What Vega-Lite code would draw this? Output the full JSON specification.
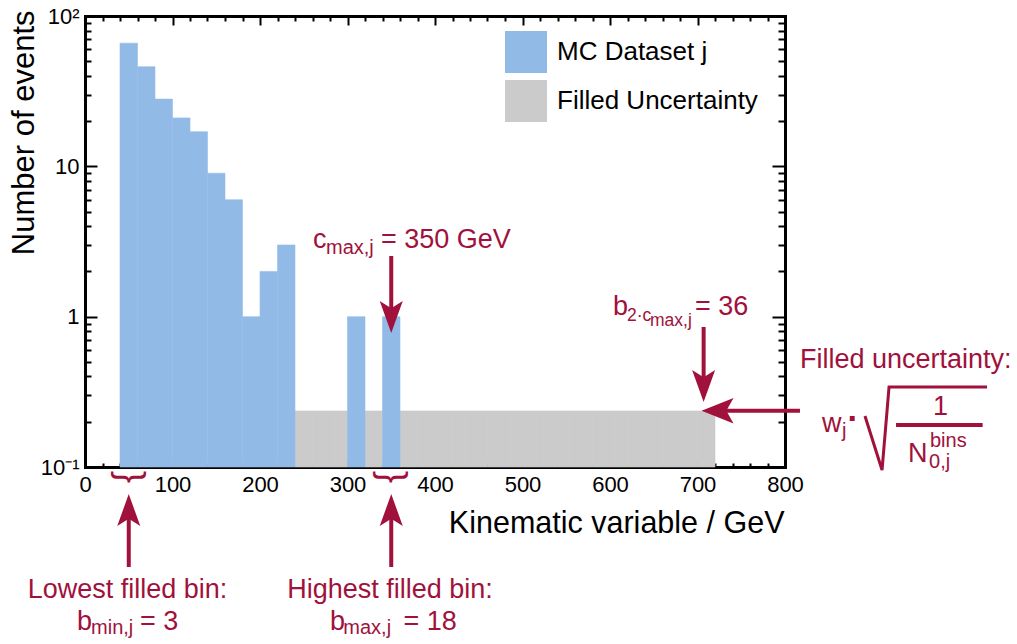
{
  "$schema": "https://vega.github.io/schema/vega-lite/v6.json",
  "width": 700,
  "height": 451,
  "autosize": "none",
  "padding": {"left": 85, "top": 16, "right": 232, "bottom": 177},
  "background": "white",
  "config": {
    "font": "Liberation Sans",
    "view": {"stroke": null},
    "axis": {
      "grid": false,
      "zindex": 1,
      "domain": false,
      "tickColor": "black",
      "tickWidth": 2,
      "labelColor": "black",
      "titleColor": "black",
      "labelFont": "Liberation Sans",
      "titleFont": "Liberation Sans",
      "titleFontWeight": "normal",
      "labelFlush": false,
      "labelOverlap": false,
      "domainColor": "black",
      "domainWidth": 3,
      "domainCap": "square"
    }
  },
  "datasets": {
    "hist": [
      {"series": "MC Dataset j", "lo": 40, "hi": 60, "count": 66},
      {"series": "MC Dataset j", "lo": 60, "hi": 80, "count": 46},
      {"series": "MC Dataset j", "lo": 80, "hi": 100, "count": 28},
      {"series": "MC Dataset j", "lo": 100, "hi": 120, "count": 21},
      {"series": "MC Dataset j", "lo": 120, "hi": 140, "count": 17},
      {"series": "MC Dataset j", "lo": 140, "hi": 160, "count": 9},
      {"series": "MC Dataset j", "lo": 160, "hi": 180, "count": 6},
      {"series": "MC Dataset j", "lo": 180, "hi": 200, "count": 1},
      {"series": "MC Dataset j", "lo": 200, "hi": 220, "count": 2},
      {"series": "MC Dataset j", "lo": 220, "hi": 240, "count": 3},
      {"series": "MC Dataset j", "lo": 300, "hi": 320, "count": 1},
      {"series": "MC Dataset j", "lo": 340, "hi": 360, "count": 1}
    ],
    "unc": [
      {"series": "Filled Uncertainty", "lo": 240, "hi": 260, "count": 0.236},
      {"series": "Filled Uncertainty", "lo": 260, "hi": 280, "count": 0.236},
      {"series": "Filled Uncertainty", "lo": 280, "hi": 300, "count": 0.236},
      {"series": "Filled Uncertainty", "lo": 320, "hi": 340, "count": 0.236},
      {"series": "Filled Uncertainty", "lo": 360, "hi": 380, "count": 0.236},
      {"series": "Filled Uncertainty", "lo": 380, "hi": 400, "count": 0.236},
      {"series": "Filled Uncertainty", "lo": 400, "hi": 420, "count": 0.236},
      {"series": "Filled Uncertainty", "lo": 420, "hi": 440, "count": 0.236},
      {"series": "Filled Uncertainty", "lo": 440, "hi": 460, "count": 0.236},
      {"series": "Filled Uncertainty", "lo": 460, "hi": 480, "count": 0.236},
      {"series": "Filled Uncertainty", "lo": 480, "hi": 500, "count": 0.236},
      {"series": "Filled Uncertainty", "lo": 500, "hi": 520, "count": 0.236},
      {"series": "Filled Uncertainty", "lo": 520, "hi": 540, "count": 0.236},
      {"series": "Filled Uncertainty", "lo": 540, "hi": 560, "count": 0.236},
      {"series": "Filled Uncertainty", "lo": 560, "hi": 580, "count": 0.236},
      {"series": "Filled Uncertainty", "lo": 580, "hi": 600, "count": 0.236},
      {"series": "Filled Uncertainty", "lo": 600, "hi": 620, "count": 0.236},
      {"series": "Filled Uncertainty", "lo": 620, "hi": 640, "count": 0.236},
      {"series": "Filled Uncertainty", "lo": 640, "hi": 660, "count": 0.236},
      {"series": "Filled Uncertainty", "lo": 660, "hi": 680, "count": 0.236},
      {"series": "Filled Uncertainty", "lo": 680, "hi": 700, "count": 0.236},
      {"series": "Filled Uncertainty", "lo": 700, "hi": 720, "count": 0.236}
    ],
    "txtMain": [
      {"ax": 260.6, "ay": 2.862, "t": "c"},
      {"ax": 338.3, "ay": 2.862, "t": "= 350 GeV"},
      {"ax": 603.4, "ay": 1.026, "t": "b"},
      {"ax": 697.1, "ay": 1.026, "t": "= 36"},
      {"ax": 817.1, "ay": 0.4555, "t": "Filled uncertainty:"},
      {"ax": 842.3, "ay": 0.1709, "t": "w"},
      {"ax": 940.6, "ay": 0.108, "t": "N"},
      {"ax": -9.1, "ay": 0.008235, "t": "b"},
      {"ax": 62.9, "ay": 0.008235, "t": "= 3"},
      {"ax": 280, "ay": 0.008235, "t": "b"},
      {"ax": 364, "ay": 0.008235, "t": "= 18"}
    ],
    "txtCenter": [
      {"ax": 977.7, "ay": 0.2217, "t": "1"},
      {"ax": 48.6, "ay": 0.01344, "t": "Lowest filled bin:"},
      {"ax": 348.6, "ay": 0.01344, "t": "Highest filled bin:"}
    ],
    "txtDot": [
      {"ax": 878.0, "ay": 0.1762, "t": "·"}
    ],
    "txtSub": [
      {"ax": 275.4, "ay": 2.611, "t": "max,j"},
      {"ax": 865.1, "ay": 0.1582, "t": "j"},
      {"ax": 965.7, "ay": 0.1358, "t": "bins"},
      {"ax": 964.6, "ay": 0.0985, "t": "0,j"},
      {"ax": 6.9, "ay": 0.007745, "t": "min,j"},
      {"ax": 295.2, "ay": 0.007745, "t": "max,j"}
    ],
    "txtSub2": [
      {"ax": 619.4, "ay": 0.9357, "t": "2·c"},
      {"ax": 645.7, "ay": 0.8667, "t": "max,j"}
    ],
    "braces": [
      {"ax": 48, "ay": 0.0858, "t": "{"},
      {"ax": 347, "ay": 0.0858, "t": "{"}
    ],
    "shafts": [
      {"ax": 350, "ax2": 350, "ay": 2.533, "ay2": 0.9947},
      {"ax": 707, "ax2": 707, "ay": 0.8535, "ay2": 0.3457},
      {"ax": 817.1, "ax2": 722.9, "ay": 0.2368, "ay2": 0.2368},
      {"ax": 50, "ax2": 50, "ay": 0.02162, "ay2": 0.05176},
      {"ax": 350, "ax2": 350, "ay": 0.02162, "ay2": 0.05176},
      {"ax": 926.9, "ax2": 1025.9, "ay": 0.1903, "ay2": 0.1903}
    ],
    "heads": [
      {"ax": 350, "ay": 0.9947, "dir": "down"},
      {"ax": 707, "ay": 0.3457, "dir": "down"},
      {"ax": 722.9, "ay": 0.2368, "dir": "left"},
      {"ax": 50, "ay": 0.05176, "dir": "up"},
      {"ax": 350, "ay": 0.05176, "dir": "up"}
    ],
    "radical": [
      {"o": 1, "ax": 891.4, "ay": 0.2184},
      {"o": 2, "ax": 910.9, "ay": 0.0955},
      {"o": 3, "ax": 918.9, "ay": 0.3404},
      {"o": 4, "ax": 1030.9, "ay": 0.3404}
    ]
  },
  "resolve": {"axis": {"x": "independent", "y": "independent"}},
  "layer": [
    {
      "data": {"name": "unc"},
      "mark": {"type": "rect", "stroke": "#CBCBCB", "strokeWidth": 0.6},
      "encoding": {
        "x": {
          "field": "lo", "type": "quantitative",
          "scale": {"domain": [0, 800], "nice": false, "zero": false},
          "axis": {
            "orient": "bottom",
            "values": [0, 100, 200, 300, 400, 500, 600, 700, 800],
            "tickSize": -8,
            "labelFontSize": 22,
            "labelPadding": 15,
            "domain": true,
            "title": "Kinematic variable / GeV",
            "titleFontSize": 30.5,
            "titleAlign": "right",
            "titleBaseline": "alphabetic",
            "titleX": 699,
            "titleY": 65
          }
        },
        "x2": {"field": "hi"},
        "y": {
          "field": "count", "type": "quantitative",
          "scale": {"type": "log", "domain": [0.1, 100], "nice": false},
          "axis": {
            "orient": "left",
            "values": [0.1, 1, 10, 100],
            "tickSize": -12,
            "labelFontSize": 22,
            "labelPadding": 18,
            "labelExpr": "datum.value >= 99 ? '10²' : datum.value >= 9 ? '10' : datum.value >= 0.9 ? '1' : '10⁻¹'",
            "domain": true,
            "title": "Number of events",
            "titleFontSize": 31,
            "titleAngle": 270,
            "titleAlign": "right",
            "titleBaseline": "alphabetic",
            "titleX": -52,
            "titleY": -6
          }
        },
        "y2": {"datum": 0.1},
        "color": {
          "field": "series", "type": "nominal",
          "scale": {"domain": ["MC Dataset j", "Filled Uncertainty"], "range": ["#91BAE6", "#CBCBCB"]},
          "legend": {
            "orient": "none",
            "legendX": 420,
            "legendY": 15,
            "title": null,
            "symbolType": "square",
            "symbolSize": 1764,
            "symbolStrokeWidth": 0,
            "symbolOpacity": 1,
            "labelFontSize": 26,
            "labelFont": "Liberation Sans",
            "labelColor": "black",
            "labelOffset": 10,
            "labelLimit": 400,
            "rowPadding": 7,
            "padding": 0
          }
        }
      }
    },
    {
      "data": {"name": "hist"},
      "mark": {"type": "rect", "stroke": "#96BEE8", "strokeWidth": 0.6},
      "encoding": {
        "x": {
          "field": "lo", "type": "quantitative",
          "scale": {"domain": [0, 800], "nice": false, "zero": false},
          "axis": {
            "orient": "bottom",
            "values": [20, 40, 60, 80, 120, 140, 160, 180, 220, 240, 260, 280, 320, 340, 360, 380, 420, 440, 460, 480, 520, 540, 560, 580, 620, 640, 660, 680, 720, 740, 760, 780],
            "tickSize": -4,
            "labels": false,
            "title": null
          }
        },
        "x2": {"field": "hi"},
        "y": {
          "field": "count", "type": "quantitative",
          "scale": {"type": "log", "domain": [0.1, 100], "nice": false},
          "axis": {
            "orient": "left",
            "values": [0.2, 0.3, 0.4, 0.5, 0.6, 0.7, 0.8, 0.9, 2, 3, 4, 5, 6, 7, 8, 9, 20, 30, 40, 50, 60, 70, 80, 90],
            "tickSize": -6,
            "labels": false,
            "title": null
          }
        },
        "y2": {"datum": 0.1},
        "color": {"field": "series", "type": "nominal"}
      }
    },
    {
      "data": {"name": "txtMain"},
      "mark": {"type": "text", "fontSize": 27, "font": "Liberation Sans", "color": "#A0113C", "align": "left", "baseline": "alphabetic"},
      "encoding": {
        "x": {
          "field": "ax", "type": "quantitative",
          "scale": {"domain": [0, 800], "nice": false, "zero": false},
          "axis": {
            "orient": "top",
            "values": [0, 100, 200, 300, 400, 500, 600, 700, 800],
            "tickSize": -9,
            "labels": false,
            "domain": true,
            "title": null
          }
        },
        "y": {
          "field": "ay", "type": "quantitative",
          "scale": {"type": "log", "domain": [0.1, 100], "nice": false},
          "axis": {
            "orient": "right",
            "values": [0.1, 1, 10, 100],
            "tickSize": -13,
            "labels": false,
            "domain": true,
            "title": null
          }
        },
        "text": {"field": "t"}
      }
    },
    {
      "data": {"name": "txtSub"},
      "mark": {"type": "text", "fontSize": 20, "font": "Liberation Sans", "color": "#A0113C", "align": "left", "baseline": "alphabetic"},
      "encoding": {
        "x": {
          "field": "ax", "type": "quantitative",
          "scale": {"domain": [0, 800], "nice": false, "zero": false},
          "axis": {
            "orient": "top",
            "values": [20, 40, 60, 80, 120, 140, 160, 180, 220, 240, 260, 280, 320, 340, 360, 380, 420, 440, 460, 480, 520, 540, 560, 580, 620, 640, 660, 680, 720, 740, 760, 780],
            "tickSize": -5,
            "labels": false,
            "title": null
          }
        },
        "y": {
          "field": "ay", "type": "quantitative",
          "scale": {"type": "log", "domain": [0.1, 100], "nice": false},
          "axis": {
            "orient": "right",
            "values": [0.2, 0.3, 0.4, 0.5, 0.6, 0.7, 0.8, 0.9, 2, 3, 4, 5, 6, 7, 8, 9, 20, 30, 40, 50, 60, 70, 80, 90],
            "tickSize": -7,
            "labels": false,
            "title": null
          }
        },
        "text": {"field": "t"}
      }
    },
    {
      "data": {"name": "txtSub2"},
      "mark": {"type": "text", "fontSize": 17.5, "font": "Liberation Sans", "color": "#A0113C", "align": "left", "baseline": "alphabetic"},
      "encoding": {
        "x": {"field": "ax", "type": "quantitative", "scale": {"domain": [0, 800], "nice": false, "zero": false}, "axis": null},
        "y": {"field": "ay", "type": "quantitative", "scale": {"type": "log", "domain": [0.1, 100], "nice": false}, "axis": null},
        "text": {"field": "t"}
      }
    },
    {
      "data": {"name": "txtDot"},
      "mark": {"type": "text", "fontSize": 34, "fontWeight": "bold", "font": "Liberation Sans", "color": "#A0113C", "align": "center", "baseline": "alphabetic"},
      "encoding": {
        "x": {"field": "ax", "type": "quantitative", "scale": {"domain": [0, 800], "nice": false, "zero": false}, "axis": null},
        "y": {"field": "ay", "type": "quantitative", "scale": {"type": "log", "domain": [0.1, 100], "nice": false}, "axis": null},
        "text": {"field": "t"}
      }
    },
    {
      "data": {"name": "txtCenter"},
      "mark": {"type": "text", "fontSize": 27, "font": "Liberation Sans", "color": "#A0113C", "align": "center", "baseline": "alphabetic"},
      "encoding": {
        "x": {"field": "ax", "type": "quantitative", "scale": {"domain": [0, 800], "nice": false, "zero": false}, "axis": null},
        "y": {"field": "ay", "type": "quantitative", "scale": {"type": "log", "domain": [0.1, 100], "nice": false}, "axis": null},
        "text": {"field": "t"}
      }
    },
    {
      "data": {"name": "braces"},
      "mark": {"type": "text", "fontSize": 36, "font": "Liberation Sans", "color": "#A0113C", "align": "center", "baseline": "middle", "angle": 270},
      "encoding": {
        "x": {"field": "ax", "type": "quantitative", "scale": {"domain": [0, 800], "nice": false, "zero": false}, "axis": null},
        "y": {"field": "ay", "type": "quantitative", "scale": {"type": "log", "domain": [0.1, 100], "nice": false}, "axis": null},
        "text": {"field": "t"}
      }
    },
    {
      "data": {"name": "shafts"},
      "mark": {"type": "rule", "color": "#A0113C", "strokeWidth": 4},
      "encoding": {
        "x": {"field": "ax", "type": "quantitative", "scale": {"domain": [0, 800], "nice": false, "zero": false}, "axis": null},
        "x2": {"field": "ax2"},
        "y": {"field": "ay", "type": "quantitative", "scale": {"type": "log", "domain": [0.1, 100], "nice": false}, "axis": null},
        "y2": {"field": "ay2"}
      }
    },
    {
      "data": {"name": "radical"},
      "mark": {"type": "line", "color": "#A0113C", "strokeWidth": 3, "strokeJoin": "miter"},
      "encoding": {
        "x": {"field": "ax", "type": "quantitative", "scale": {"domain": [0, 800], "nice": false, "zero": false}, "axis": null},
        "y": {"field": "ay", "type": "quantitative", "scale": {"type": "log", "domain": [0.1, 100], "nice": false}, "axis": null},
        "order": {"field": "o", "type": "quantitative"}
      }
    },
    {
      "data": {"name": "heads"},
      "mark": {"type": "point", "filled": true, "color": "#A0113C", "opacity": 1, "size": 1024},
      "encoding": {
        "x": {"field": "ax", "type": "quantitative", "scale": {"domain": [0, 800], "nice": false, "zero": false}, "axis": null},
        "y": {"field": "ay", "type": "quantitative", "scale": {"type": "log", "domain": [0.1, 100], "nice": false}, "axis": null},
        "shape": {
          "field": "dir", "type": "nominal",
          "scale": {"domain": ["down", "up", "left"], "range": ["M0,1L-0.72,-1L0,-0.55L0.72,-1Z", "M0,-1L-0.72,1L0,0.55L0.72,1Z", "M-1,0L1,-0.8L0.55,0L1,0.8Z"]},
          "legend": null
        }
      }
    }
  ]
}
